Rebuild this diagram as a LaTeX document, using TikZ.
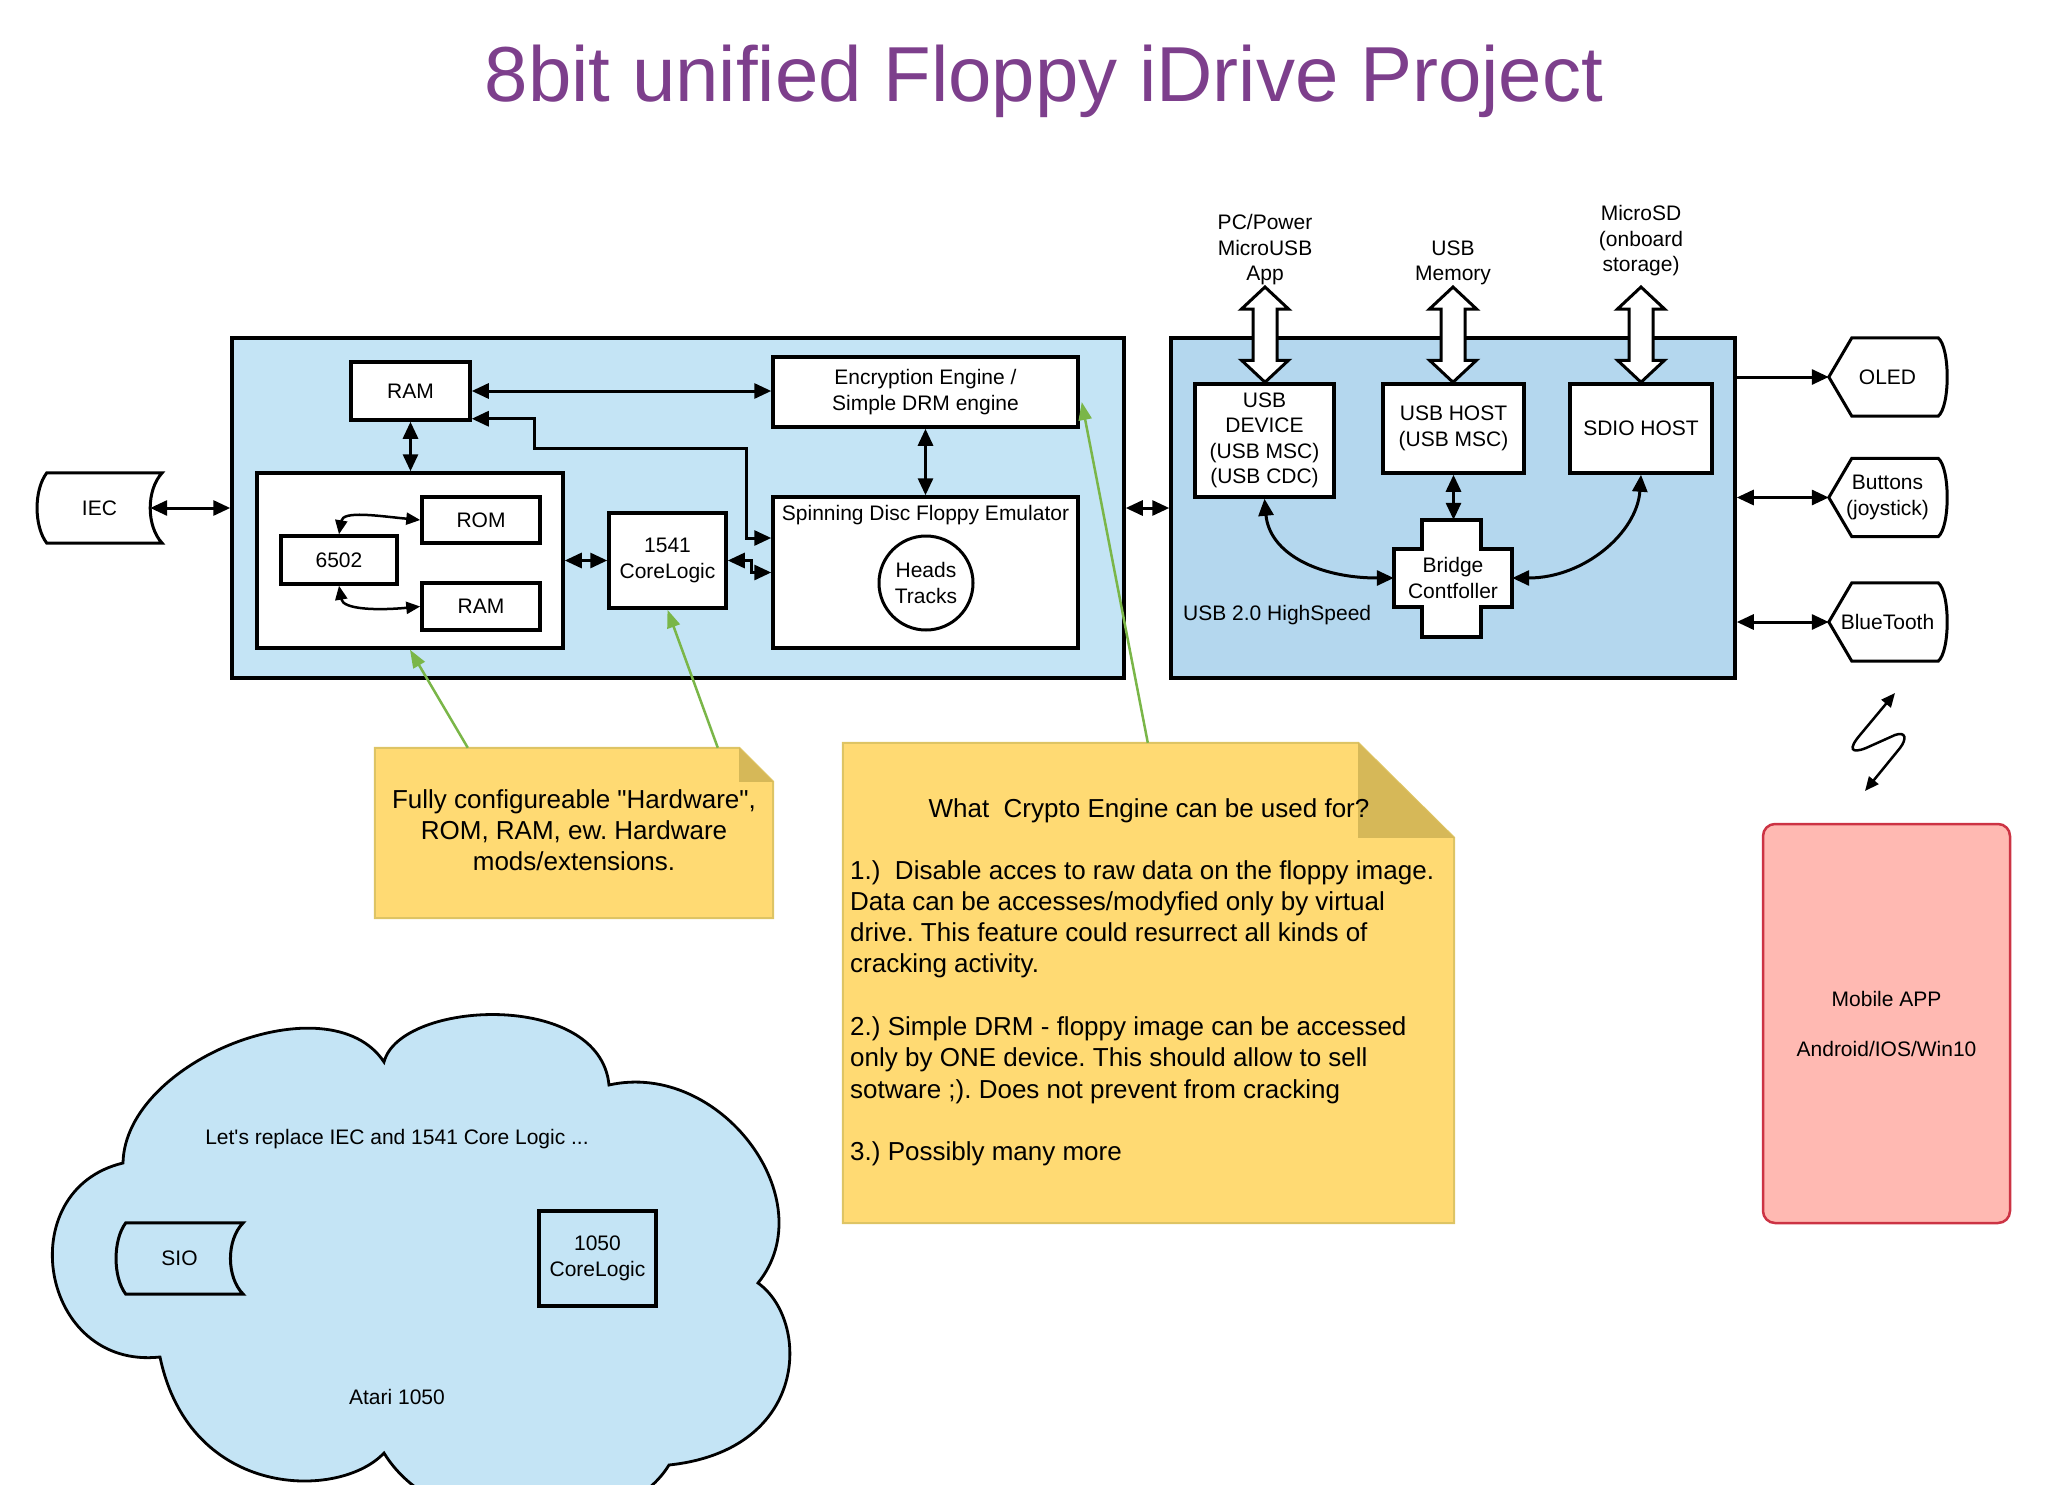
\documentclass[tikz,border=0pt]{standalone}
\usepackage{fontspec}
\setmainfont{Liberation Sans}[Ligatures=TeXOff]
\usetikzlibrary{arrows.meta,calc}
\definecolor{leftblue}{RGB}{196,228,245}
\definecolor{rightblue}{RGB}{180,215,238}
\definecolor{noteyellow}{RGB}{255,218,115}
\definecolor{notefold}{RGB}{214,184,88}
\definecolor{noteborder}{RGB}{222,196,100}
\definecolor{arrowgreen}{RGB}{122,182,72}
\definecolor{titlepurple}{RGB}{125,63,140}
\definecolor{mobfill}{RGB}{255,185,178}
\definecolor{mobdraw}{RGB}{204,51,68}
\newcommand\boxfont{\fontsize{21}{25.5}\selectfont}
\newcommand\notefont{\fontsize{26}{31.3}\selectfont}
\newcommand\hollowarrow[2]{%
  \path[hollow] let \p1=(#1), \p2=(#2) in
    (\x1,\y1) -- (\x1+23.5pt,\y1-22pt) -- (\x1+12pt,\y1-22pt) -- (\x1+12pt,\y2+22pt)
    -- (\x1+23.5pt,\y2+22pt) -- (\x1,\y2) -- (\x1-23.5pt,\y2+22pt) -- (\x1-12pt,\y2+22pt)
    -- (\x1-12pt,\y1-22pt) -- (\x1-23.5pt,\y1-22pt) -- cycle;}
\frenchspacing
\begin{document}
\begin{tikzpicture}[x=1pt,y=-1pt,
  box/.style={draw=black,line width=3.5pt,fill=white,inner sep=0pt,align=center,font=\boxfont},
  plain/.style={inner sep=0pt,align=center,font=\boxfont},
  frame/.style={inner sep=0pt,align=center,font=\boxfont},
  outline/.style={draw=black,line width=3pt,line join=miter},
  hollow/.style={draw=black,fill=white,line width=3pt,line join=miter},
  dbl/.style={line width=3pt,{Triangle[length=17pt,width=15pt]}-{Triangle[length=17pt,width=15pt]}},
  sgl/.style={line width=3pt,-{Triangle[length=17pt,width=15pt]}},
  dblsm/.style={line width=2.5pt,{Triangle[length=14pt,width=12pt]}-{Triangle[length=14pt,width=12pt]}},
  garrow/.style={draw=arrowgreen,line width=2.5pt,-{Triangle[length=18pt,width=13pt]}},
  notebg/.style={draw=noteborder,fill=noteyellow,line width=2pt},
  fold/.style={fill=notefold}
]
\useasboundingbox (0,0) rectangle (2048,1485);
\clip (0,0) rectangle (2048,1485);

% title
\node[font=\fontsize{78}{90}\selectfont,text=titlepurple,anchor=base,inner sep=0pt] (title) at (1044,102) {8bit unified Floppy iDrive Project};

% big containers
\node[draw=black,line width=3.5pt,fill=leftblue,minimum width=892pt,minimum height=340pt,inner sep=0pt] (lbox) at (678,508) {};
\node[draw=black,line width=3.5pt,fill=rightblue,minimum width=564pt,minimum height=340pt,inner sep=0pt] (rbox) at (1453,508) {};

% left container content
\node[box,minimum width=119pt,minimum height=58pt] (ramT) at (410.5,391) {RAM};
\node[box,minimum width=306pt,minimum height=175pt] (cpu) at (410,560.5) {};
\node[box,minimum width=118pt,minimum height=46pt] (rom) at (481,520) {ROM};
\node[box,minimum width=116pt,minimum height=48pt] (c6502) at (339,560) {6502};
\node[box,minimum width=118pt,minimum height=47pt] (ramI) at (481,606.5) {RAM};
\node[box,minimum width=117pt,minimum height=95pt] (core1541) at (667.5,560.5) {1541\\CoreLogic};
\node[box,minimum width=305pt,minimum height=70pt] (enc) at (925.5,392) {Encryption Engine /\\Simple DRM engine};
\node[box,minimum width=305pt,minimum height=151pt] (spin) at (925.5,572.5) {};
\node[plain,anchor=base] (spintitle) at (925.5,520.5) {Spinning Disc Floppy Emulator};
\node[box,circle,line width=3pt,minimum size=94pt] (heads) at (926,583) {Heads\\Tracks};

% IEC
\node[frame,minimum width=125pt,minimum height=70pt] (iec) at (99.5,508) {IEC};
\draw[outline] ($(iec.north west)+(10,0)$) -- (iec.north east)
  .. controls +(-16,17) and +(-16,-17) .. (iec.south east)
  -- ($(iec.south west)+(10,0)$)
  .. controls +(-13,-17) and +(-13,17) .. ($(iec.north west)+(10,0)$) -- cycle;

% left connectors
\draw[dbl] ($(iec.east)+(-12,0)$) -- (lbox.west);
\draw[dbl] (ramT.east) -- (ramT.east -| enc.west);
\coordinate (k1) at (746,538);
\draw[dbl] ($(ramT.south east)+(0,-3)$) -| (534,448) -| (k1) -- (k1 -| spin.west);
\draw[dbl] (ramT.south) -- (ramT.south |- cpu.north);
\draw[dbl] (enc.south) -- (spin.north);
\draw[dbl] (cpu.east) -- (core1541.west);
\draw[dbl] (core1541.east) -- ++(24,0) |- (spin.west);
\draw[dblsm] (c6502.north) .. controls +(4,-24) and +(-42,-4) .. (rom.west);
\draw[dblsm] (c6502.south) .. controls +(4,24) and +(-42,4) .. (ramI.west);
\draw[dbl] (lbox.east) -- (rbox.west);

% right container content
\node[box,minimum width=139pt,minimum height=113pt] (usbdev) at (1264.5,440.5) {USB\\DEVICE\\(USB MSC)\\(USB CDC)};
\node[box,minimum width=141pt,minimum height=89pt] (usbhost) at (1453.5,428.5) {USB HOST\\(USB MSC)};
\node[box,minimum width=142pt,minimum height=89pt] (sdio) at (1641,428.5) {SDIO HOST};
\node[fill=white,inner sep=0pt,minimum width=59pt,minimum height=117pt] (bridgev) at (1451.5,578.5) {};
\node[frame,fill=white,minimum width=118pt,minimum height=58pt] (bridge) at (1453,578) {Bridge\\Contfoller};
\draw[outline,line width=3.5pt] (bridgev.north west) -- (bridgev.north east) -- (bridgev.north east |- bridge.north)
  -- (bridge.north east) -- (bridge.south east) -- (bridgev.south east |- bridge.south)
  -- (bridgev.south east) -- (bridgev.south west) -- (bridgev.south west |- bridge.south)
  -- (bridge.south west) -- (bridge.north west) -- (bridgev.north west |- bridge.north) -- cycle;
\node[plain,anchor=west] (hs) at (1183,615) {USB 2.0 HighSpeed};

\draw[dbl] (usbhost.south) -- (usbhost.south |- bridgev.north);
\draw[dbl] (usbdev.south) .. controls +(5,55) and +(-75,0) .. (bridge.west);
\draw[dbl] (sdio.south) .. controls +(-4,58) and +(72,0) .. (bridge.east);

% labels above
\node[plain] (pclbl) at (1265,250) {PC/Power\\MicroUSB\\App};
\node[plain] (usblbl) at (1453,263) {USB\\Memory};
\node[plain] (sdlbl) at (1641,241) {MicroSD\\(onboard\\storage)};
\coordinate (ha1) at (1265,287);
\coordinate (ha2) at (1453,287);
\coordinate (ha3) at (1641,287);
\hollowarrow{ha1}{usbdev.north}
\hollowarrow{ha2}{usbhost.north}
\hollowarrow{ha3}{sdio.north}

% peripherals
\node[frame,minimum width=117pt,minimum height=78pt] (oled) at (1887.5,377) {OLED};
\node[frame,minimum width=117pt,minimum height=78pt] (buttons) at (1887.5,497.5) {Buttons\\(joystick)};
\node[frame,minimum width=117pt,minimum height=78pt] (bt) at (1887.5,622) {BlueTooth};
\foreach \nm in {oled,buttons,bt}{
  \draw[outline] (\nm.west) -- ($(\nm.north west)+(23,0)$) -- ($(\nm.north east)+(-8,0)$)
    .. controls +(12,10) and +(12,-10) .. ($(\nm.south east)+(-8,0)$)
    -- ($(\nm.south west)+(23,0)$) -- cycle;
}
\draw[sgl] (rbox.east |- oled.west) -- (oled.west);
\draw[dbl] (rbox.east |- buttons.west) -- (buttons.west);
\draw[dbl] (rbox.east |- bt.west) -- (bt.west);

% wireless symbol
\coordinate (w1) at (1895,693);
\coordinate (w2) at (1865,791);
\draw[dblsm,line width=2.5pt] (w1) -- (1860,735) .. controls (1848,749) and (1851,754) .. (1866,748)
  -- (1895,735) .. controls (1906,731) and (1907,739) .. (1900,748) -- (w2);

% mobile app
\node[draw=mobdraw,fill=mobfill,line width=2.5pt,rounded corners=12pt,minimum width=247pt,minimum height=399pt,
  inner sep=0pt,align=center,font=\boxfont] (mobile) at (1886.5,1023.5) {Mobile APP\\[24.5pt]Android/IOS/Win10};

% note 1
\node[inner sep=0pt,minimum width=398pt,minimum height=170pt] (note1) at (574,833) {};
\draw[notebg] (note1.north west) -- ($(note1.north east)+(-34,0)$) -- ($(note1.north east)+(0,34)$)
  -- (note1.south east) -- (note1.south west) -- cycle;
\fill[fold] ($(note1.north east)+(-34,0)$) -- ($(note1.north east)+(-34,34)$) -- ($(note1.north east)+(0,34)$) -- cycle;
\node[inner sep=0pt,align=center,font=\notefont] (note1txt) at (574,830) {Fully configureable "Hardware",\\ROM, RAM, ew. Hardware\\mods/extensions.};

% note 2
\node[inner sep=0pt,minimum width=611pt,minimum height=480pt] (note2) at (1148.5,983) {};
\draw[notebg] (note2.north west) -- ($(note2.north east)+(-96,0)$) -- ($(note2.north east)+(0,95)$)
  -- (note2.south east) -- (note2.south west) -- cycle;
\fill[fold] ($(note2.north east)+(-96,0)$) -- ($(note2.north east)+(-96,95)$) -- ($(note2.north east)+(0,95)$) -- cycle;
\node[inner sep=0pt,font=\notefont,anchor=base] (n2head) at (1149,817) {What\ \ Crypto Engine can be used for?};
\node[inner sep=0pt,align=left,font=\notefont,anchor=north west] (n2body) at (850,860)
 {1.)\ \ Disable acces to raw data on the floppy image.\\
  Data can be accesses/modyfied only by virtual\\
  drive. This feature could resurrect all kinds of\\
  cracking activity.\\[31.3pt]
  2.) Simple DRM - floppy image can be accessed\\
  only by ONE device. This should allow to sell\\
  sotware ;). Does not prevent from cracking\\[31.3pt]
  3.) Possibly many more};

% green pointers
\draw[garrow] ($(note1.north west)+(93,0)$) -- (cpu.south);
\draw[garrow] ($(note1.north west)+(343,0)$) -- (core1541.south);
\draw[garrow] ($(note2.north west)+(305,0)$) -- ($(enc.east)+(2,10)$);

% cloud
\draw[line width=2.8pt,fill=leftblue] (123,1163) .. controls (125,1060) and (330,980) .. (384,1062)
  .. controls (400,1000) and (600,990) .. (609,1085)
  .. controls (720,1060) and (825,1200) .. (758,1283)
  .. controls (810,1320) and (810,1450) .. (669,1465)
  .. controls (620,1545) and (440,1545) .. (384,1453)
  .. controls (340,1500) and (190,1500) .. (160,1357)
  .. controls (40,1370) and (10,1190) .. (123,1163) -- cycle;
\node[plain] (cloudtxt) at (397,1139) {Let's replace IEC and 1541 Core Logic ...};
\node[plain] (atari) at (397,1397) {Atari 1050};
\node[frame,minimum width=127pt,minimum height=71pt] (sio) at (179.5,1258.5) {SIO};
\draw[outline] ($(sio.north west)+(10,0)$) -- (sio.north east)
  .. controls +(-17,17) and +(-17,-17) .. (sio.south east)
  -- ($(sio.south west)+(10,0)$)
  .. controls +(-13,-17) and +(-13,17) .. ($(sio.north west)+(10,0)$) -- cycle;
\node[box,fill=none,minimum width=117pt,minimum height=95pt] (core1050) at (597.5,1258.5) {1050\\CoreLogic};
\end{tikzpicture}
\end{document}
